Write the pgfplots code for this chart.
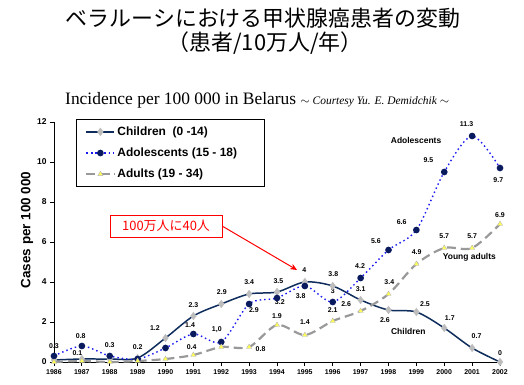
\documentclass[border=0pt]{standalone}
\usepackage{fontspec}
\setmainfont{Liberation Sans}
\newfontfamily\jp{Noto Sans CJK JP}
\newfontfamily\tnr{Liberation Serif}
\usepackage{pgfplots}
\pgfplotsset{compat=1.18}
\usetikzlibrary{arrows.meta}
\definecolor{navy}{HTML}{0F2D5C}
\definecolor{markgray}{HTML}{BDBDBD}
\definecolor{adoblue}{HTML}{1A1AF0}
\definecolor{adomark}{HTML}{0A1A5E}
\definecolor{adgray}{HTML}{999999}
\definecolor{adyellow}{HTML}{FFFF55}
\tikzset{
 lab/.style={font=\fontsize{7}{8}\selectfont\bfseries, inner sep=0pt},
 ann/.style={font=\fontsize{8.5}{10}\selectfont\bfseries, inner sep=0pt},
}
\begin{document}
\begin{tikzpicture}
\useasboundingbox (-54bp,-23bp) rectangle (470bp,362bp);
\begin{axis}[
 at={(0,0)}, anchor=south west,
 scale only axis, width=446bp, height=240bp,
 xmin=1986, xmax=2002, ymin=0, ymax=12,
 axis x line=bottom, axis y line=left,
 axis line style={-, black, line width=0.9pt},
 xtick={1986,...,2002}, ytick={0,2,...,12},
 tick align=outside, major tick length=4bp,
 tick style={black, line width=0.8pt},
 /pgf/number format/1000 sep={},
 /pgf/number format/assume math mode=true,
 x tick label style={font=\fontsize{7}{8}\selectfont\bfseries},
 y tick label style={font=\fontsize{8.5}{10}\selectfont\bfseries},
 clip=false,
 legend style={at={(rel axis cs:0.049,1.011)}, anchor=north west, draw=black, line width=0.9pt,
   font=\fontsize{12}{14}\selectfont\bfseries, inner xsep=9bp, inner ysep=5bp, row sep=7bp,
   cells={anchor=west}},
 legend image code/.code={\draw[mark repeat=2,mark phase=2,#1] plot coordinates {(0bp,0bp) (14bp,0bp) (28bp,0bp)};},
]
\addplot[navy, line width=1.5pt, smooth, mark=diamond*, mark size=3bp, mark options={fill=markgray, draw=markgray}]
 coordinates {(1986,0.1) (1987,0.15) (1988,0.15) (1989,0.2) (1990,1.2) (1991,2.3) (1992,2.9) (1993,3.4) (1994,3.5) (1995,4.0) (1996,3.8) (1997,3.1) (1998,2.6) (1999,2.5) (2000,1.7) (2001,0.7) (2002,0)};
\addlegendentry{Children\ \ (0 -14)}
\addplot[adoblue, line width=1.4pt, dash pattern=on 1.5pt off 3pt, smooth, mark=*, mark size=2.6bp, mark options={solid, fill=adomark, draw=adomark}]
 coordinates {(1986,0.3) (1987,0.8) (1988,0.3) (1989,0.15) (1990,0.7) (1991,1.4) (1992,1.0) (1993,2.9) (1994,3.2) (1995,3.8) (1996,3.0) (1997,4.2) (1998,5.6) (1999,6.6) (2000,9.5) (2001,11.3) (2002,9.7)};
\addlegendentry{Adolescents (15 - 18)\hspace*{16bp}}
\addplot[adgray, line width=2.2pt, dash pattern=on 9pt off 5pt, smooth, mark=triangle*, mark size=3bp, mark options={solid, fill=adyellow, draw=adgray!70, line width=0.4pt}]
 coordinates {(1986,0) (1987,0.05) (1988,0) (1989,0.05) (1990,0.15) (1991,0.35) (1992,0.75) (1993,0.75) (1994,1.85) (1995,1.35) (1996,2.05) (1997,2.55) (1998,3.4) (1999,4.9) (2000,5.7) (2001,5.7) (2002,6.9)};
\addlegendentry{Adults (19 - 34)}
\node[lab] at (axis cs:1986.0,0.8) {0.3};
\node[lab] at (axis cs:1986.96,1.27) {0.8};
\node[lab] at (axis cs:1986.84,0.43) {0.1};
\node[lab] at (axis cs:1988.0,0.82) {0.3};
\node[lab] at (axis cs:1989.0,0.73) {0.2};
\node[lab] at (axis cs:1989.62,1.68) {1.2};
\node[lab] at (axis cs:1990.88,1.82) {1.4};
\node[lab] at (axis cs:1991.0,2.85) {2.3};
\node[lab] at (axis cs:1990.94,0.75) {0.4};
\node[lab] at (axis cs:1992.02,3.47) {2.9};
\node[lab] at (axis cs:1991.84,1.63) {1,0};
\node[lab] at (axis cs:1993.0,3.97) {3.4};
\node[lab] at (axis cs:1993.17,2.57) {2.9};
\node[lab] at (axis cs:1993.41,0.63) {0.8};
\node[lab] at (axis cs:1994.05,4.05) {3.5};
\node[lab] at (axis cs:1994.1,2.98) {3.2};
\node[lab] at (axis cs:1994.0,2.3) {1.9};
\node[lab] at (axis cs:1994.98,4.57) {4};
\node[lab] at (axis cs:1994.85,3.27) {3.8};
\node[lab] at (axis cs:1995.0,1.97) {1.4};
\node[lab] at (axis cs:1996.02,4.4) {3.8};
\node[lab] at (axis cs:1996.0,3.55) {3};
\node[lab] at (axis cs:1996.0,2.6) {2.1};
\node[lab] at (axis cs:1996.48,2.9) {2.6};
\node[lab] at (axis cs:1996.98,4.8) {4.2};
\node[lab] at (axis cs:1997.0,3.63) {3.1};
\node[lab] at (axis cs:1998.03,3.97) {3.4};
\node[lab] at (axis cs:1997.55,6.02) {5.6};
\node[lab] at (axis cs:1997.87,2.1) {2.6};
\node[lab] at (axis cs:1998.47,6.97) {6.6};
\node[lab] at (axis cs:1999.01,5.47) {4.9};
\node[lab] at (axis cs:1999.31,2.9) {2.5};
\node[lab] at (axis cs:1999.43,10.1) {9.5};
\node[lab] at (axis cs:2000.0,6.27) {5.7};
\node[lab] at (axis cs:2000.2,2.18) {1.7};
\node[lab] at (axis cs:2000.8,11.9) {11.3};
\node[lab] at (axis cs:2001.0,6.27) {5.7};
\node[lab] at (axis cs:2001.16,1.27) {0.7};
\node[lab] at (axis cs:2001.94,9.1) {9.7};
\node[lab] at (axis cs:2002.0,7.32) {6.9};
\node[lab] at (axis cs:2002.0,0.43) {0};
\node[ann] at (axis cs:1998.99,11.07) {Adolescents};
\node[ann] at (axis cs:2000.9,5.23) {Young adults};
\node[ann] at (axis cs:1998.71,1.52) {Children};
\draw[red, line width=1pt, -{Stealth[length=7bp,width=6bp]}] (axis cs:1992.03,6.8) -- (axis cs:1994.72,4.6);
\node[draw=red, line width=1pt, fill=white, text=red, font=\jp\fontsize{13}{14}\selectfont, minimum width=112bp, minimum height=22bp, inner sep=1bp] at (axis cs:1990.02,6.8) {100万人に40人};
\end{axis}
\node[rotate=90, font=\fontsize{13.5}{15}\selectfont\bfseries] at (-27bp,132bp) {Cases per 100 000};
\node[font=\jp\fontsize{22}{24}\selectfont] at (209bp,344bp) {ベラルーシにおける甲状腺癌患者の変動};
\node[font=\jp\fontsize{22}{24}\selectfont] at (211bp,319bp) {（患者/10万人/年）};
\node[anchor=base west, inner sep=0pt] at (11bp,257.7bp) {\tnr\fontsize{17.5}{20}\selectfont Incidence per 100 000 in Belarus \fontsize{11.5}{13}\selectfont$\sim$ \itshape Courtesy Yu. E. Demidchik \upshape$\sim$};
\end{tikzpicture}
\end{document}
